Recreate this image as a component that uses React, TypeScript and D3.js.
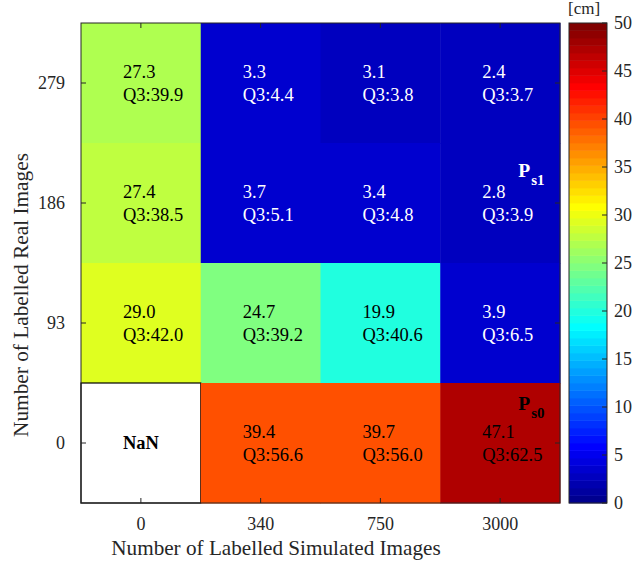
import * as d3 from 'd3'

const simLabels = ['0', '340', '750', '3000']
const realLabels = ['279', '186', '93', '0']

// median error per cell, rows from top (279) to bottom (0); NaN = no data
const medianRows = [
  [27.3, 3.3, 3.1, 2.4],
  [27.4, 3.7, 3.4, 2.8],
  [29.0, 24.7, 19.9, 3.9],
  [NaN, 39.4, 39.7, 47.1],
]

const q3Rows = [
  [39.9, 4.4, 3.8, 3.7],
  [38.5, 5.1, 4.8, 3.9],
  [42.0, 39.2, 40.6, 6.5],
  [NaN, 56.6, 56.0, 62.5],
]

const colorTicks = [0, 5, 10, 15, 20, 25, 30, 35, 40, 45, 50]

const width = 641
const height = 563
const margin = { top: 23, left: 81 }
const plotW = 479
const plotH = 480
const cbar = { x: 569, w: 38 }
const font = "'Liberation Serif', 'Times New Roman', Times, serif"
const axisColor = '#262626'

// MATLAB jet(64)
function jetMap(m: number): string[] {
  const n = Math.ceil(m / 4)
  const u: number[] = []
  for (let i = 1; i <= n; i++) u.push(i / n)
  for (let i = 1; i < n; i++) u.push(1)
  for (let i = n; i >= 1; i--) u.push(i / n)
  const off = Math.ceil(n / 2) - (m % 4 === 1 ? 1 : 0)
  const J = Array.from({ length: m }, () => [0, 0, 0])
  u.forEach((val, k) => {
    const g = off + k + 1
    const r = g + n
    const b = g - n
    if (r >= 1 && r <= m) J[r - 1][0] = val
    if (g >= 1 && g <= m) J[g - 1][1] = val
    if (b >= 1 && b <= m) J[b - 1][2] = val
  })
  return J.map((c) => d3.rgb(c[0] * 255, c[1] * 255, c[2] * 255).formatHex())
}

const jet = jetMap(64)

function colorFor(v: number): string {
  const idx = Math.min(63, Math.max(0, Math.floor((v / 50) * 64)))
  return jet[idx]
}

const x = d3.scaleBand().domain(simLabels).range([margin.left, margin.left + plotW])
const y = d3.scaleBand().domain(realLabels).range([margin.top, margin.top + plotH])
const cy = d3.scaleLinear().domain([0, 50]).range([margin.top + plotH, margin.top])

type Cell = { ri: number; ci: number; v: number; q3: number }

const cells: Cell[] = []
medianRows.forEach((row, ri) => {
  row.forEach((v, ci) => {
    cells.push({ ri, ci, v, q3: q3Rows[ri][ci] })
  })
})

function CellMark({ cell }: { cell: Cell }) {
  const cellW = x.bandwidth()
  const cellH = y.bandwidth()
  const x0 = x(simLabels[cell.ci]) as number
  const y0 = y(realLabels[cell.ri]) as number
  if (Number.isNaN(cell.v)) {
    return (
      <g>
        <rect x={x0} y={y0} width={cellW} height={cellH} fill="#fff" stroke="#000" strokeWidth={1.2} />
        <text x={x0 + cellW / 2} y={y0 + cellH / 2 + 6} textAnchor="middle" fontSize={18.5} fontWeight="bold">
          NaN
        </text>
      </g>
    )
  }
  const txt = cell.v < 10 ? '#fff' : '#000'
  return (
    <g>
      <rect x={x0} y={y0} width={cellW + 0.5} height={cellH + 0.5} fill={colorFor(cell.v)} />
      <text x={x0 + 42} y={y0 + cellH / 2 - 5} fontSize={18.5} fill={txt}>
        {cell.v.toFixed(1)}
      </text>
      <text x={x0 + 42} y={y0 + cellH / 2 + 18} fontSize={18.5} fill={txt}>
        {'Q3:' + cell.q3.toFixed(1)}
      </text>
    </g>
  )
}

export default function App() {
  const cellW = x.bandwidth()
  const cellH = y.bandwidth()
  const lastCol = x('3000') as number

  return (
    <svg width={width} height={height} style={{ display: 'block', position: 'absolute', left: 0, top: 0, fontFamily: font }}>
      <rect x={0} y={0} width={width} height={height} fill="#fff" />

      {cells.map((c) => (
        <CellMark key={c.ri + '-' + c.ci} cell={c} />
      ))}

      <text x={lastCol + 78} y={(y('186') as number) + 34} fontSize={19.5} fontWeight="bold" fill="#fff">
        P<tspan fontSize={15} dy={8} dx={1}>s1</tspan>
      </text>
      <text x={lastCol + 78} y={(y('0') as number) + 27} fontSize={19.5} fontWeight="bold" fill="#000">
        P<tspan fontSize={15} dy={8} dx={1}>s0</tspan>
      </text>

      <rect x={margin.left} y={margin.top} width={plotW} height={plotH} fill="none" stroke={axisColor} strokeWidth={1} />
      {simLabels.map((s) => {
        const cx = (x(s) as number) + cellW / 2
        return (
          <g key={'xt' + s}>
            <line x1={cx} x2={cx} y1={margin.top + plotH} y2={margin.top + plotH - 5} stroke={axisColor} />
            <line x1={cx} x2={cx} y1={margin.top} y2={margin.top + 5} stroke={axisColor} />
            <text x={cx} y={margin.top + plotH + 27} textAnchor="middle" fontSize={18} fill={axisColor}>
              {s}
            </text>
          </g>
        )
      })}
      {realLabels.map((s) => {
        const c = (y(s) as number) + cellH / 2
        return (
          <g key={'yt' + s}>
            <line x1={margin.left} x2={margin.left + 5} y1={c} y2={c} stroke={axisColor} />
            <line x1={margin.left + plotW} x2={margin.left + plotW - 5} y1={c} y2={c} stroke={axisColor} />
            <text x={margin.left - 16} y={c + 6} textAnchor="end" fontSize={18} fill={axisColor}>
              {s}
            </text>
          </g>
        )
      })}
      <text x={276} y={555} textAnchor="middle" fontSize={21.2} fill={axisColor}>
        Number of Labelled Simulated Images
      </text>
      <text transform="translate(28 295) rotate(-90)" textAnchor="middle" fontSize={21.3} fill={axisColor}>
        Number of Labelled Real Images
      </text>

      {jet.map((c, i) => {
        const yb = cy((i / 64) * 50)
        const yt = cy(((i + 1) / 64) * 50)
        return <rect key={'cb' + i} x={cbar.x} y={yt} width={cbar.w} height={yb - yt + 0.4} fill={c} />
      })}
      <rect x={cbar.x} y={margin.top} width={cbar.w} height={plotH} fill="none" stroke={axisColor} strokeWidth={1} />
      {colorTicks.map((t) => (
        <g key={'ct' + t}>
          <line x1={cbar.x + cbar.w} x2={cbar.x + cbar.w - 5} y1={cy(t)} y2={cy(t)} stroke={axisColor} />
          <text x={cbar.x + cbar.w + 7} y={cy(t) + 6} fontSize={18} fill={axisColor}>
            {t}
          </text>
        </g>
      ))}
      <text x={cbar.x - 1} y={14} fontSize={17} fill={axisColor}>
        [cm]
      </text>
    </svg>
  )
}
